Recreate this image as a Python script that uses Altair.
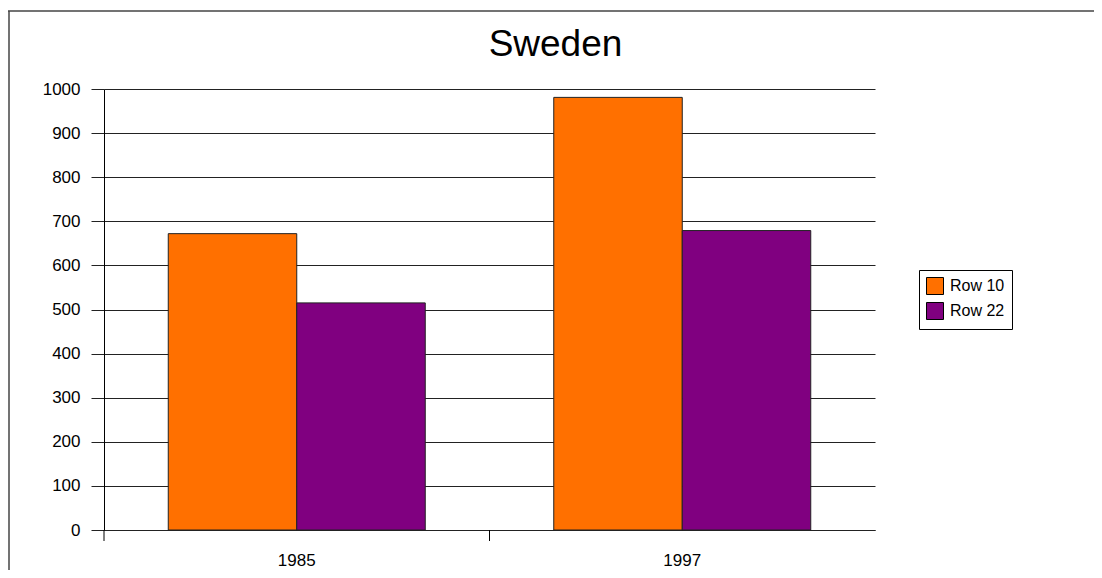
import altair as alt
import pandas as pd

years = ["1985", "1997"]
series = ["Row 10", "Row 22"]
row10 = [672, 981]
row22 = [515, 679]
colors = ["#FF7000", "#800080"]
y_ticks = list(range(0, 1001, 100))

rows = []
for i, yr in enumerate(years):
    rows.append({"year": yr, "series": series[0], "value": row10[i]})
    rows.append({"year": yr, "series": series[1], "value": row22[i]})
df = pd.DataFrame(rows)

W, H = 771, 441
FONT = "Liberation Sans"

xscale = alt.Scale(domain=years, paddingInner=1 / 3, paddingOuter=1 / 6)
xaxis = alt.Axis(
    title=None, labelAngle=0, ticks=False, tickSize=0, labelFontSize=17,
    labelPadding=22, domainColor="#222", domainWidth=1, labelColor="#000",
    labelFont=FONT, grid=False,
)

bars = alt.Chart(df).mark_bar(stroke="#222", strokeWidth=1).encode(
    x=alt.X("year:N", scale=xscale, axis=xaxis),
    xOffset=alt.XOffset("series:N", scale=alt.Scale(domain=series, paddingInner=0, paddingOuter=0)),
    y=alt.Y(
        "value:Q",
        scale=alt.Scale(domain=[0, 1000], nice=False),
        axis=alt.Axis(
            title=None, values=y_ticks, format="d", tickSize=13, tickColor="#222",
            labelFontSize=17, labelPadding=11, labelFont=FONT, labelColor="#000",
            domainColor="#000", grid=True, gridColor="#222", gridWidth=1, gridOpacity=1,
        ),
    ),
    color=alt.Color(
        "series:N",
        scale=alt.Scale(domain=series, range=colors),
        legend=alt.Legend(
            title=None, orient="none", legendX=815, legendY=181, strokeColor="#000",
            fillColor="#fff", padding=7, symbolType="square", symbolSize=289,
            symbolStrokeColor="#000", symbolStrokeWidth=1, symbolOpacity=1,
            labelFontSize=16, labelFont=FONT, labelColor="#000", rowPadding=3, labelOffset=6,
        ),
    ),
)

ticks = alt.Chart(pd.DataFrame({"year": years})).mark_rule(
    color="#000", strokeWidth=1, xOffset=-64.25
).encode(
    x=alt.X("year:N", bandPosition=0, scale=xscale, axis=xaxis),
    y=alt.value(H),
    y2=alt.value(H + 11),
)

one = pd.DataFrame({"k": [0]})
frame_top = alt.Chart(one).mark_rule(color="#444", strokeWidth=1.5).encode(
    x=alt.value(-96), x2=alt.value(W + 230), y=alt.value(-78)
)
frame_left = alt.Chart(one).mark_rule(color="#444", strokeWidth=1.5).encode(
    x=alt.value(-95), y=alt.value(-78), y2=alt.value(H + 60)
)

chart = (
    alt.layer(bars, ticks, frame_top, frame_left)
    .properties(
        width=W,
        height=H,
        title=alt.TitleParams(
            "Sweden", fontSize=37, font=FONT, fontWeight="normal", color="#000",
            anchor="middle", frame="group", dx=66, baseline="alphabetic", offset=0, dy=83,
        ),
        autosize=alt.AutoSizeParams(type="none"),
        padding={"left": 96, "top": 81, "right": 219, "bottom": 40},
        background="#fff",
    )
    .configure_view(stroke=None)
)

chart.save("out.html", embed_options={"renderer": "svg", "actions": False})
